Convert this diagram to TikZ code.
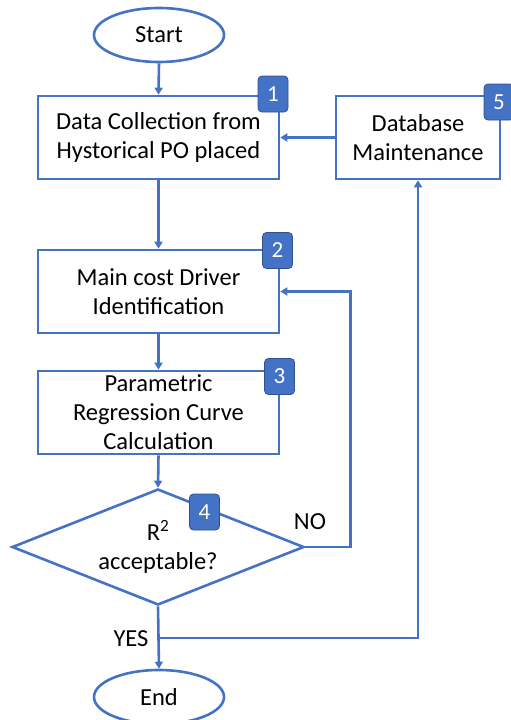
\documentclass[tikz,border=0pt]{standalone}
\usepackage{fontspec}
\setmainfont{Carlito}
\usetikzlibrary{shapes.geometric,arrows.meta}
\definecolor{fblue}{HTML}{4472C4}
\definecolor{dblue}{HTML}{2F528F}
\tikzset{
  base/.style={draw=fblue,line width=2.6pt,font=\fontsize{24.5}{29}\selectfont,align=center,text=black,fill=white},
  procbox/.style={base,rectangle,inner sep=0pt},
  term/.style={base,ellipse,minimum width=130pt,minimum height=54pt,inner sep=0pt},
  decide/.style={base,diamond,aspect=2.52,minimum width=292pt,minimum height=116pt,inner sep=0pt},
  badge/.style={rectangle,rounded corners=4pt,fill=fblue,draw=dblue,line width=0.8pt,text=white,minimum width=30pt,minimum height=36pt,inner sep=0pt,font=\fontsize{23}{26}\selectfont},
  arr/.style={draw=fblue,line width=2.6pt,-{Triangle[length=7pt,width=8pt]}},
  lbl/.style={font=\fontsize{24.5}{29}\selectfont,text=black,inner sep=0pt}
}
\begin{document}
\begin{tikzpicture}[x=1pt,y=-1pt]
\useasboundingbox (0,0) rectangle (511,720);
\clip (0,0) rectangle (511,720);
\node[term] (start) at (159,35) {Start};
\node[procbox,minimum width=241pt,minimum height=83pt] (b1) at (158.5,137.5) {Data Collection from\\Hystorical PO placed};
\node[procbox,minimum width=164pt,minimum height=83pt] (b5) at (418,137.5) {Database\\Maintenance};
\node[procbox,minimum width=241pt,minimum height=83pt] (b2) at (158.5,291.5) {Main cost Driver\\Identification};
\node[procbox,minimum width=241pt,minimum height=83pt] (b3) at (158.5,412.5) {Parametric\\Regression Curve\\Calculation};
\node[decide] (dia) at (158,547) {R\textsuperscript{2}\\acceptable?};
\node[term] (end) at (159,697) {End};
\coordinate (yj) at (159,638);
\draw[arr] (start.south) -- (b1.north);
\draw[arr] (b1.south) -- (b2.north);
\draw[arr] (b2.south) -- (b3.north);
\draw[arr] (b3.south) -- (dia.north);
\draw[arr] (dia.south) -- (end.north);
\draw[arr] (b5.west) -- (b1.east);
\draw[arr] (dia.east) -- ++(45,0) |- (b2.east);
\draw[arr] (yj) -| (b5.south);
\node[lbl] (no) at (310,522) {NO};
\node[lbl] (yes) at (131,639) {YES};
\node[badge] (n1) at (273,94) {1};
\node[badge] (n2) at (277.5,250.5) {2};
\node[badge] (n3) at (279.5,376.5) {3};
\node[badge] (n4) at (204.5,512) {4};
\node[badge] (n5) at (499,102) {5};
\end{tikzpicture}
\end{document}
